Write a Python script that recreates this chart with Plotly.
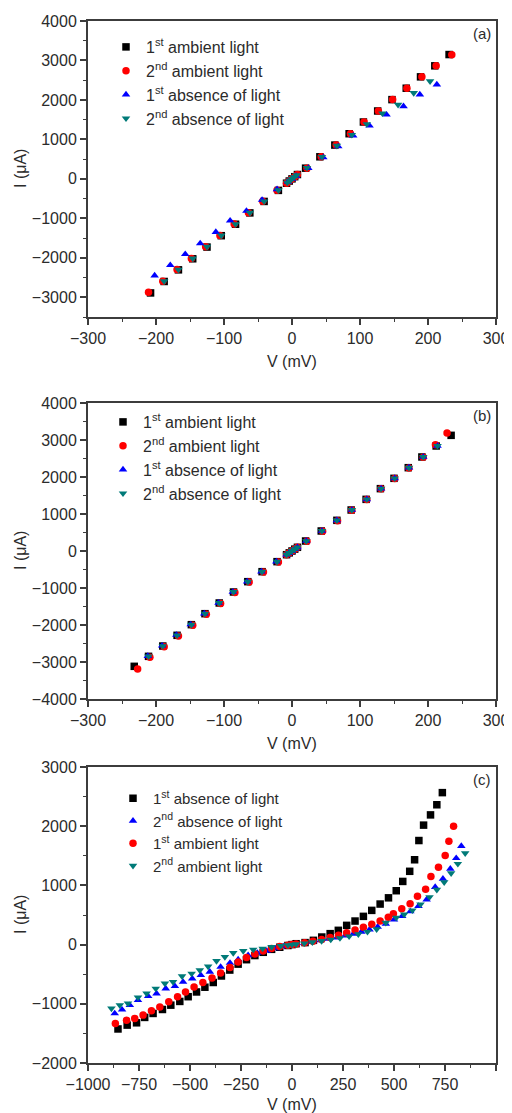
import plotly.graph_objects as go

# ---------------- Panel (a) ----------------
a_amb1_v = [-208, -188, -167, -146, -125, -104, -83, -62, -41, -20, -8, -4, 0, 4, 8, 20, 41, 63, 84, 105, 126, 147, 168, 189, 210, 231]
a_amb1_i = [-2890, -2600, -2305, -2025, -1728, -1440, -1150, -862, -572, -292, -110, -55, 0, 55, 110, 271, 559, 856, 1144, 1441, 1720, 2008, 2297, 2585, 2864, 3150]
a_amb2_v = [-211, -190, -169, -148, -127, -106, -85, -64, -43, -22, -8, -4, 0, 4, 8, 22, 43, 65, 86, 106, 127, 148, 169, 191, 212, 235]
a_amb2_i = [-2873, -2593, -2297, -2017, -1720, -1432, -1144, -856, -568, -288, -110, -55, 0, 55, 110, 271, 559, 856, 1144, 1441, 1720, 2008, 2297, 2585, 2864, 3144]
a_abs1_v = [-202, -179, -157, -135, -112, -91, -67, -44, -22, -6, 0, 6, 24, 46, 68, 90, 114, 139, 164, 188, 213]
a_abs1_i = [-2449, -2186, -1907, -1636, -1347, -1059, -814, -534, -263, -75, 0, 75, 271, 542, 822, 1093, 1347, 1627, 1838, 2136, 2390]
a_abs2_v = [-188, -167, -146, -125, -104, -83, -62, -41, -20, -7, -3, 0, 3, 7, 22, 44, 66, 88, 110, 133, 156, 179, 203]
a_abs2_i = [-2593, -2297, -2017, -1720, -1432, -1144, -856, -568, -288, -95, -45, 0, 45, 95, 280, 560, 840, 1115, 1390, 1660, 1881, 2178, 2475]

# ---------------- Panel (b) ----------------
b_amb1_v = [-232, -211, -190, -169, -148, -128, -107, -86, -65, -44, -22, -8, -4, 0, 4, 8, 20, 43, 66, 87, 109, 130, 150, 171, 191, 212, 234]
b_amb1_i = [-3117, -2847, -2568, -2279, -1991, -1694, -1405, -1108, -829, -559, -288, -100, -50, 0, 50, 100, 270, 541, 829, 1108, 1396, 1685, 1964, 2252, 2541, 2838, 3126]
b_amb2_v = [-227, -209, -188, -167, -146, -126, -105, -84, -63, -42, -20, -8, -4, 0, 4, 8, 22, 45, 67, 88, 110, 131, 151, 172, 193, 211, 228]
b_amb2_i = [-3189, -2870, -2590, -2300, -2010, -1710, -1420, -1120, -840, -570, -295, -100, -50, 0, 50, 100, 265, 535, 820, 1100, 1390, 1680, 1960, 2245, 2535, 2870, 3189]
b_abs1_v = [-212, -191, -170, -149, -129, -108, -87, -66, -45, -23, -8, -4, 0, 4, 8, 21, 44, 66, 88, 110, 131, 151, 172, 193, 214]
b_abs1_i = [-2840, -2560, -2270, -1985, -1690, -1400, -1105, -826, -556, -285, -100, -50, 0, 50, 100, 272, 543, 831, 1110, 1398, 1687, 1966, 2254, 2543, 2838]
b_abs2_v = [-211, -190, -169, -148, -128, -107, -86, -65, -44, -22, -8, -4, 0, 4, 8, 21, 44, 66, 88, 110, 131, 151, 172, 193, 214]
b_abs2_i = [-2847, -2568, -2279, -1991, -1694, -1405, -1108, -829, -559, -288, -100, -50, 0, 50, 100, 270, 541, 829, 1108, 1396, 1685, 1964, 2252, 2541, 2838]

# ---------------- Panel (c) ----------------
c_abs1_v = [-853, -808, -762, -722, -681, -635, -594, -550, -509, -468, -427, -386, -346, -305, -264, -223, -182, -141, -100, -60, -20, 0, 20, 64, 105, 146, 187, 227, 268, 309, 350, 391, 432, 473, 511, 543, 577, 601, 622, 645, 679, 710, 737]
c_abs1_i = [-1425, -1360, -1321, -1230, -1163, -1096, -1023, -960, -880, -800, -720, -640, -530, -430, -330, -255, -185, -130, -80, -45, -15, 0, 15, 34, 72, 128, 185, 241, 325, 398, 477, 578, 685, 790, 910, 1067, 1238, 1433, 1758, 2018, 2191, 2362, 2567]
c_abs2_v = [-869, -833, -795, -755, -705, -664, -619, -574, -534, -489, -447, -403, -350, -304, -264, -215, -170, -124, -80, -40, -10, 0, 20, 60, 100, 140, 180, 220, 260, 300, 340, 380, 420, 460, 500, 540, 580, 620, 660, 702, 740, 776, 805, 830]
c_abs2_i = [-1163, -1100, -1023, -939, -871, -826, -742, -703, -630, -573, -517, -460, -377, -310, -253, -180, -141, -107, -65, -30, -8, 0, 8, 25, 45, 70, 95, 120, 150, 180, 215, 255, 300, 350, 420, 480, 560, 650, 760, 971, 1112, 1281, 1460, 1665]
c_amb1_v = [-866, -811, -771, -730, -689, -648, -604, -561, -522, -480, -437, -392, -350, -304, -264, -223, -182, -141, -100, -60, -20, 0, 20, 62, 103, 145, 187, 228, 268, 309, 350, 391, 432, 472, 497, 538, 579, 615, 655, 681, 718, 751, 769, 792]
c_amb1_i = [-1331, -1276, -1247, -1191, -1119, -1052, -967, -883, -799, -715, -640, -565, -479, -388, -293, -219, -160, -110, -65, -30, -10, 0, 10, 30, 55, 85, 120, 160, 200, 245, 295, 345, 400, 460, 522, 607, 691, 815, 933, 1152, 1305, 1506, 1747, 2000]
c_amb2_v = [-885, -844, -804, -755, -713, -668, -623, -583, -539, -492, -452, -411, -370, -329, -288, -239, -190, -144, -100, -55, -20, 0, 20, 60, 100, 145, 190, 235, 280, 325, 370, 415, 460, 511, 550, 590, 630, 674, 710, 746, 780, 813, 849]
c_amb2_i = [-1079, -1023, -995, -893, -826, -742, -657, -630, -534, -489, -433, -370, -275, -208, -140, -107, -84, -67, -40, -20, -8, 0, 8, 22, 40, 62, 85, 110, 140, 175, 215, 260, 370, 455, 510, 580, 680, 802, 927, 1055, 1207, 1365, 1544]

BLACK = "#000000"
RED = "#ff0000"
BLUE = "#0000ff"
TEAL = "#007a78"
FONT = "Arial, Liberation Sans, sans-serif"
TXT = "#2b2b2b"
AX = "#3c3c3c"
MS = 7.5

fig = go.Figure()


def add(x, y, name, color, symbol, xa, ya, leg):
    fig.add_trace(go.Scatter(
        x=x, y=y, mode="markers", name=name,
        marker=dict(color=color, symbol=symbol, size=MS, line=dict(width=0)),
        xaxis=xa, yaxis=ya, legend=leg,
    ))


# panel a
add(a_amb1_v, a_amb1_i, "1<sup>st</sup> ambient light", BLACK, "square", "x", "y", "legend")
add(a_amb2_v, a_amb2_i, "2<sup>nd</sup> ambient light", RED, "circle", "x", "y", "legend")
add(a_abs1_v, a_abs1_i, "1<sup>st</sup> absence of light", BLUE, "triangle-up", "x", "y", "legend")
add(a_abs2_v, a_abs2_i, "2<sup>nd</sup> absence of light", TEAL, "triangle-down", "x", "y", "legend")
# panel b
add(b_amb1_v, b_amb1_i, "1<sup>st</sup> ambient light", BLACK, "square", "x2", "y2", "legend2")
add(b_amb2_v, b_amb2_i, "2<sup>nd</sup> ambient light", RED, "circle", "x2", "y2", "legend2")
add(b_abs1_v, b_abs1_i, "1<sup>st</sup> absence of light", BLUE, "triangle-up", "x2", "y2", "legend2")
add(b_abs2_v, b_abs2_i, "2<sup>nd</sup> absence of light", TEAL, "triangle-down", "x2", "y2", "legend2")
# panel c
add(c_abs1_v, c_abs1_i, "1<sup>st</sup> absence of light", BLACK, "square", "x3", "y3", "legend3")
add(c_abs2_v, c_abs2_i, "2<sup>nd</sup> absence of light", BLUE, "triangle-up", "x3", "y3", "legend3")
add(c_amb1_v, c_amb1_i, "1<sup>st</sup> ambient light", RED, "circle", "x3", "y3", "legend3")
add(c_amb2_v, c_amb2_i, "2<sup>nd</sup> ambient light", TEAL, "triangle-down", "x3", "y3", "legend3")

# page has an 8px body margin: figure is sized so it ends at the window edge
OFF = 8
W, H = 512 - OFF, 1113 - OFF
XL, XR = 88, 496
panels = {
    "": (21, 317),
    "2": (403, 699),
    "3": (767, 1063),
}


def px(xp):
    return (xp - OFF) / W


def py(yp):
    return 1 - (yp - OFF) / H


def axis_common():
    return dict(
        showline=True, linecolor=AX, linewidth=2, mirror=True,
        ticks="outside", ticklen=6, tickwidth=1.5, tickcolor=AX,
        showgrid=False, zeroline=False,
        tickfont=dict(family=FONT, size=16, color=TXT),
    )


xranges = {"": [-300, 300], "2": [-300, 300], "3": [-1000, 1000]}
xd = {"": 100, "2": 100, "3": 250}
xm = {"": 50, "2": 50, "3": 125}
yranges = {"": [-3500, 4000], "2": [-4000, 4000], "3": [-2000, 3000]}

layout = dict(
    width=W, height=H, margin=dict(l=0, r=0, t=0, b=0),
    paper_bgcolor="white", plot_bgcolor="white",
    font=dict(family=FONT, color=TXT),
)
for k, (top, bot) in panels.items():
    xa = axis_common()
    xa.update(domain=[px(XL), px(XR)], range=xranges[k], dtick=xd[k], tick0=0,
              anchor="y" + k, automargin=False,
              minor=dict(dtick=xm[k], ticks="outside", ticklen=3, tickcolor=AX, tickwidth=1.2))
    ya = axis_common()
    ya.update(domain=[py(bot), py(top)], range=yranges[k], dtick=1000, tick0=0,
              anchor="x" + k, automargin=False,
              minor=dict(dtick=500, ticks="outside", ticklen=3, tickcolor=AX, tickwidth=1.2))
    layout["xaxis" + k] = xa
    layout["yaxis" + k] = ya

leg_common = dict(
    bgcolor="rgba(0,0,0,0)", borderwidth=0, xanchor="left", yanchor="top",
    itemsizing="trace", tracegroupgap=0,
)
layout["legend"] = dict(leg_common, x=px(106), y=py(30), font=dict(family=FONT, size=16, color=TXT))
layout["legend2"] = dict(leg_common, x=px(103), y=py(405), font=dict(family=FONT, size=16, color=TXT))
layout["legend3"] = dict(leg_common, x=px(113), y=py(782), font=dict(family=FONT, size=15, color=TXT))

fig.update_layout(**layout)

annots = []
title_y = [362, 743, 1104]
for (k, (top, bot)), lab, ty in zip(panels.items(), ["(a)", "(b)", "(c)"], title_y):
    annots.append(dict(text=lab, x=px(482), y=py(top + 12), xref="paper", yref="paper",
                       showarrow=False, xanchor="center", yanchor="middle",
                       font=dict(family=FONT, size=15, color=TXT)))
    annots.append(dict(text="V (mV)", x=px((XL + XR) / 2), y=py(ty), xref="paper", yref="paper",
                       showarrow=False, xanchor="center", yanchor="middle",
                       font=dict(family=FONT, size=16, color=TXT)))
    annots.append(dict(text="I (\u03bcA)", x=px(20), y=py((top + bot) / 2), xref="paper", yref="paper",
                       showarrow=False, xanchor="center", yanchor="middle", textangle=-90,
                       font=dict(family=FONT, size=16, color=TXT)))
fig.update_layout(annotations=annots)

fig.write_html("out.html")
